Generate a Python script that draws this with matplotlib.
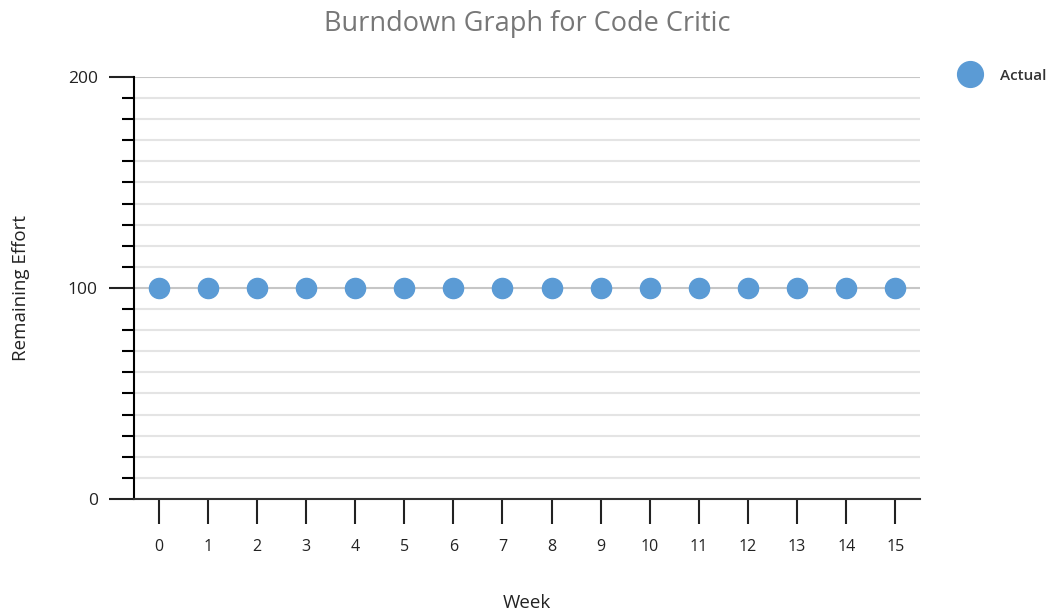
from matplotlib import pyplot as plt
from matplotlib.ticker import MultipleLocator

# data
weeks = list(range(16))
actual = [100] * 16
y_ticks = [0, 100, 200]

plt.rcParams['font.family'] = ['Open Sans', 'DejaVu Sans']

fig = plt.figure(figsize=(10.55, 6.13), dpi=100)
ax = fig.add_axes([0.127, 0.186, 0.745, 0.6884])

ax.plot(weeks, actual, linestyle='none', marker='o', markersize=14.5,
        color='#5B9BD5', label='Actual', zorder=3)

ax.set_xlim(-0.5, 15.5)
ax.set_ylim(0, 200)
ax.set_xticks(weeks)
ax.set_yticks(y_ticks)
ax.yaxis.set_minor_locator(MultipleLocator(10))

# grid
ax.grid(True, which='minor', axis='y', color='#e4e4e4', linewidth=1.5, zorder=0)
ax.grid(True, which='major', axis='y', color='#c6c6c6', linewidth=1.5, zorder=0)
ax.set_axisbelow(True)

for s in ['top', 'right']:
    ax.spines[s].set_visible(False)
ax.spines['left'].set_linewidth(1.5)
ax.spines['bottom'].set_linewidth(1.5)
ax.spines['bottom'].set_color('#333333')

ax.tick_params(axis='x', which='major', direction='out', length=18, width=1.5,
               pad=11, labelsize=11.5, colors='#222222')
ax.tick_params(axis='y', which='major', direction='out', length=18, width=1.5,
               pad=8, labelsize=12.5, colors='#222222')
ax.tick_params(axis='y', which='minor', direction='out', length=9, width=1.5)

ax.set_xlabel('Week', fontsize=13.5, labelpad=28, color='#222222')
ax.set_ylabel('Remaining Effort', fontsize=13.5, labelpad=27, color='#222222')
ax.set_title('Burndown Graph for Code Critic', fontsize=19.5, color='#777777', pad=33)

leg = ax.legend(loc='upper left', bbox_to_anchor=(1.03, 1.045), frameon=False,
                fontsize=11, markerscale=1.28, handletextpad=1.0,
                borderaxespad=0.3)
for t in leg.get_texts():
    t.set_color('#333333')
    t.set_fontweight('semibold')

plt.savefig('out.png', dpi=100)
